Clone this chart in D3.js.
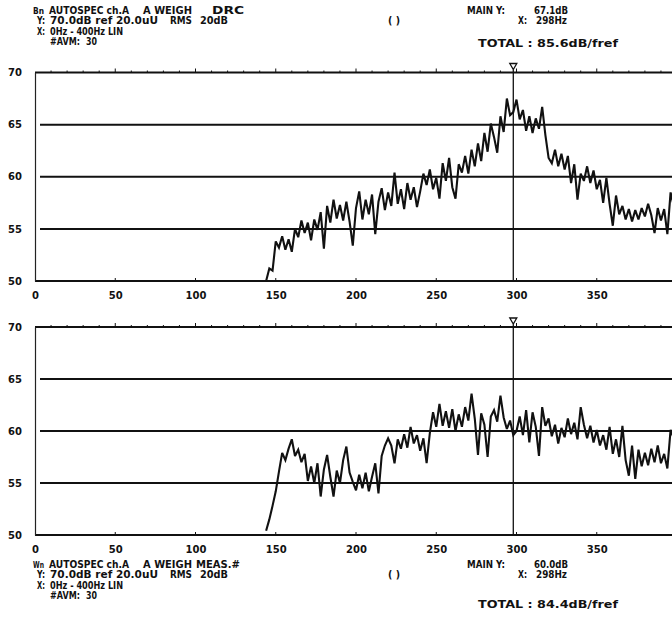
<!DOCTYPE html>
<html>
<head>
<meta charset="utf-8">
<script src="https://cdn.jsdelivr.net/npm/d3@7"></script>
<style>
  html, body { margin: 0; padding: 0; background: #fff; }
  svg { display: block; }
  text { font-family: "DejaVu Sans", sans-serif; fill: #111; }
</style>
</head>
<body>
<svg id="chart" width="672" height="618"></svg>
<script>
// ---------------- data ----------------
const freqs = [144,146,148,150,152,154,156,158,160,162,164,166,168,170,172,174,176,178,180,182,184,186,188,190,192,194,196,198,200,
  202,204,206,208,210,212,214,216,218,220,222,224,226,228,230,232,234,236,238,240,242,244,246,248,250,252,254,256,258,260,
  262,264,266,268,270,272,274,276,278,280,282,284,286,288,290,292,294,296,298,300,302,304,306,308,310,312,314,316,318,320,
  322,324,326,328,330,332,334,336,338,340,342,344,346,348,350,352,354,356,358,360,362,364,366,368,370,372,374,376,378,380,
  382,384,386,388,390,392,394,396,398,400];

const drcLevels = [50.0,51.2,51.0,53.8,53.2,54.3,53.0,54.0,52.8,55.0,54.2,55.8,54.6,55.6,53.9,55.9,54.9,56.6,53.1,57.2,55.6,57.8,56.0,57.3,55.8,57.6,55.7,53.4,57.0,
  58.6,55.9,57.8,56.4,58.3,54.5,57.6,58.9,56.8,58.5,57.2,60.4,57.4,58.8,56.9,59.4,57.8,59.0,57.1,58.6,60.3,59.2,60.7,58.8,59.9,57.9,61.3,59.6,61.8,59.0,
  57.9,61.2,60.4,62.0,60.3,62.6,61.0,63.2,61.5,64.2,62.4,65.1,63.8,62.3,65.8,64.3,67.5,65.9,66.2,67.4,65.5,66.4,64.4,65.8,64.2,65.6,64.6,66.7,64.0,61.8,
  61.3,62.6,61.0,62.2,60.7,62.0,59.4,61.2,57.8,60.3,59.6,61.0,59.4,60.6,58.8,59.7,57.5,59.9,57.4,55.3,58.2,56.4,57.2,55.9,56.9,55.7,56.8,55.9,57.0,56.2,
  57.4,56.3,54.6,57.0,55.8,56.9,54.5,58.5,57.2,58.6];

const measLevels = [50.4,51.5,52.8,54.2,56.1,57.9,57.2,58.3,59.2,57.6,58.2,57.0,57.8,55.2,56.6,55.0,56.9,53.7,56.3,57.7,55.6,53.7,56.2,55.0,57.2,58.5,56.0,55.1,54.3,
  55.8,54.5,56.0,54.2,55.6,56.9,54.0,57.6,58.6,59.3,58.6,56.9,59.2,58.3,59.7,58.4,60.4,58.8,59.6,58.1,59.3,56.9,59.8,61.8,60.4,62.6,60.5,61.9,60.3,62.1,
  60.0,61.6,60.4,62.3,61.0,63.6,61.2,57.7,61.7,60.6,57.5,61.4,62.0,60.9,63.4,61.3,60.2,61.0,59.6,60.0,61.4,59.6,62.0,58.9,61.8,60.4,57.6,62.3,60.5,61.2,
  59.5,60.6,58.8,60.3,59.4,61.2,59.7,60.8,59.2,62.3,60.6,59.3,60.5,58.9,60.1,58.6,59.6,58.2,60.4,57.8,59.2,57.5,60.5,57.2,55.7,58.6,55.4,58.2,56.6,57.9,
  56.7,58.3,57.0,58.6,56.9,57.8,56.4,60.1,59.3,60.0];

const xTicks = [0, 50, 100, 150, 200, 250, 300, 350];
const yTicks = [50, 55, 60, 65, 70];
const gridLevels = [55, 60, 65];
const minorTicks = [10,20,30,40,60,70,80,90,110,120,130,140,160,170,180,190,210,220,230,240,260,270,280,290,310,320,330,340,360,370,380,390];
const markerFreq = 298;

const topHeader = {
  icon: "Bn", title: "AUTOSPEC ch.A", weigh: "A WEIGH", mode: "DRC",
  mainY: "67.1dB", total: "TOTAL :  85.6dB/fref"
};
const bottomHeader = {
  icon: "Wn", title: "AUTOSPEC ch.A", weigh: "A WEIGH", mode: "MEAS.#",
  mainY: "60.0dB", total: "TOTAL :  84.4dB/fref"
};
const refLine = ["70.0dB ref 20.0uU", "RMS", "20dB"];
const spanLine = "0Hz - 400Hz   LIN";
const avgLine = ["#AVM:", "30"];
const markerX = "298Hz";

// ---------------- drawing ----------------
const svg = d3.select("#chart");
const x = d3.scaleLinear().domain([0, 400]).range([35, 677]);

function header(g, h, y0, totalDy) {
  const t = (xx, yy, s, len, size) => {
    const el = g.append("text").attr("x", xx).attr("y", yy)
      .attr("font-size", size || 10).attr("font-weight", "bold").text(s);
    if (len) el.attr("textLength", len).attr("lengthAdjust", "spacingAndGlyphs");
    return el;
  };
  t(33, y0, h.icon, 11, 8);
  t(49, y0, h.title, 80);
  t(143, y0, h.weigh, 49);
  if (h.mode === "DRC") t(212, y0, h.mode, 32); else t(196, y0, h.mode, 44);
  t(37, y0 + 10, "Y:", 8);
  t(50, y0 + 10, refLine[0], 108);
  t(170, y0 + 10, refLine[1], 22);
  t(200, y0 + 10, refLine[2], 28);
  t(388, y0 + 10, "( )", 12);
  t(37, y0 + 21, "X:", 8);
  t(50, y0 + 21, spanLine, 73);
  t(50, y0 + 31, avgLine[0], 30);
  t(86, y0 + 31, avgLine[1], 11);
  t(467, y0, "MAIN  Y:", 38);
  t(534, y0, h.mainY, 34);
  t(518, y0 + 10, "X:", 9);
  t(536, y0 + 10, markerX, 31);
  t(478, y0 + totalDy, h.total, 140);
}

function panel(values, top, bottom, labelY) {
  const y = d3.scaleLinear().domain([50, 70]).range([bottom, top]);
  const g = svg.append("g");

  // grid lines
  g.selectAll("line.grid").data(gridLevels).join("line")
    .attr("x1", 40).attr("x2", 672)
    .attr("y1", d => y(d)).attr("y2", d => y(d))
    .attr("stroke", "#111").attr("stroke-width", 2);

  // frame top & bottom
  g.selectAll("line.frame").data([70, 50]).join("line")
    .attr("x1", 35).attr("x2", 672)
    .attr("y1", d => y(d)).attr("y2", d => y(d))
    .attr("stroke", "#111").attr("stroke-width", 2.2);

  // left axis
  const yAxis = d3.axisLeft(y).tickValues(yTicks).tickSize(0).tickPadding(13).tickFormat(d3.format("d"));
  const ya = g.append("g").attr("transform", "translate(35,0)").call(yAxis);
  ya.select(".domain").attr("stroke", "#222").attr("stroke-width", 1.2);
  ya.selectAll("text").attr("font-size", 10).attr("font-weight", "bold")
    .style("font-family", "'DejaVu Sans',sans-serif").attr("fill", "#111");

  // minor ticks at top border
  g.selectAll("line.minor").data(minorTicks).join("line")
    .attr("x1", d => x(d)).attr("x2", d => x(d))
    .attr("y1", y(70)).attr("y2", y(70) - 2)
    .attr("stroke", "#111").attr("stroke-width", 1);
  g.selectAll("line.major").data(xTicks.slice(1)).join("line")
    .attr("x1", d => x(d)).attr("x2", d => x(d))
    .attr("y1", y(70)).attr("y2", y(70) - 4)
    .attr("stroke", "#111").attr("stroke-width", 1);
  g.selectAll("line.majorb").data(xTicks.slice(1)).join("line")
    .attr("x1", d => x(d)).attr("x2", d => x(d))
    .attr("y1", y(50)).attr("y2", y(50) - 3)
    .attr("stroke", "#111").attr("stroke-width", 1);

  // x axis labels
  const xAxis = d3.axisBottom(x).tickValues(xTicks).tickSize(0).tickPadding(0).tickFormat(d3.format("d"));
  const xa = g.append("g").attr("transform", `translate(0,${labelY})`).call(xAxis);
  xa.select(".domain").remove();
  xa.selectAll("text").attr("font-size", 10).attr("font-weight", "bold")
    .style("font-family", "'DejaVu Sans',sans-serif").attr("fill", "#111");

  // marker line
  g.append("line")
    .attr("x1", x(markerFreq)).attr("x2", x(markerFreq))
    .attr("y1", y(70)).attr("y2", y(50))
    .attr("stroke", "#111").attr("stroke-width", 1.3);
  const mx = x(markerFreq), my = y(70);
  g.append("path")
    .attr("d", `M${mx - 3.5},${my - 9} L${mx + 3.5},${my - 9} L${mx},${my - 3} Z M${mx},${my - 3} L${mx},${my}`)
    .attr("fill", "none").attr("stroke", "#111").attr("stroke-width", 1.3);

  // spectrum trace
  const line = d3.line().x((d, i) => x(freqs[i])).y(d => y(d));
  g.append("path").datum(values)
    .attr("d", line)
    .attr("fill", "none").attr("stroke", "#111").attr("stroke-width", 2.1)
    .attr("stroke-linejoin", "miter").attr("stroke-miterlimit", 3);
}

header(svg.append("g"), topHeader, 13.5, 33);
panel(drcLevels, 72.5, 281, 292);
panel(measLevels, 327, 535, 546);
header(svg.append("g"), bottomHeader, 567.5, 40);
</script>
</body>
</html>
